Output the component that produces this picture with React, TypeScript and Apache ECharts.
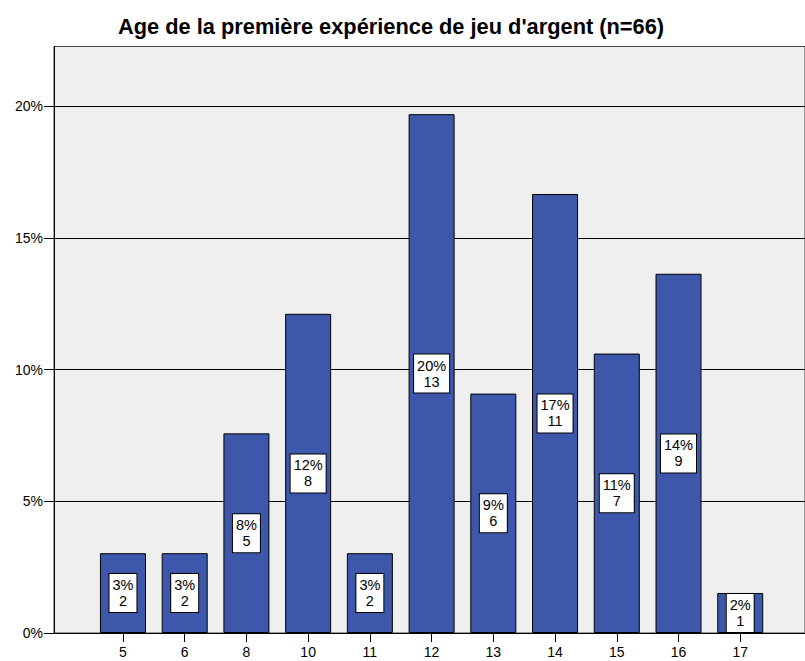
import React, { useEffect, useRef } from "react";
import * as echarts from "echarts";

const TITLE = "Age de la première expérience de jeu d'argent (n=66)";
const ages = ["5", "6", "8", "10", "11", "12", "13", "14", "15", "16", "17"];
const counts = [2, 2, 5, 8, 2, 13, 6, 11, 7, 9, 1];
const percents = [3.03, 3.03, 7.58, 12.12, 3.03, 19.7, 9.09, 16.67, 10.61, 13.64, 1.52];
const yTicks = [0, 5, 10, 15, 20];

const FONT = '"Liberation Sans", Arial, sans-serif';
const Y_MAX = 22.27;

export default function App() {
  const ref = useRef<HTMLDivElement>(null);
  useEffect(() => {
    if (!ref.current) return;
    const chart = echarts.init(ref.current, null, { renderer: "svg" });
    const gridTop = 46.5;
    const gridBottom = 28;
    chart.setOption({
      animation: false,
      backgroundColor: "#ffffff",
      title: {
        text: TITLE,
        left: 113,
        top: 10,
        textStyle: { fontFamily: FONT, fontSize: 21.8, fontWeight: "bold", color: "#000" },
      },
      grid: [
        {
          left: 54,
          right: -2,
          top: gridTop,
          bottom: gridBottom,
          show: true,
          backgroundColor: "#efefef",
          borderColor: "#444",
          borderWidth: 1,
        },
        {
          left: 92.1,
          width: 679,
          top: gridTop,
          bottom: gridBottom,
        },
      ],
      xAxis: [
        {
          gridIndex: 0,
          type: "value",
          min: 0,
          max: 1,
          axisLine: { show: true, onZero: false, lineStyle: { color: "#000", width: 1 } },
          axisTick: { show: false },
          axisLabel: { show: false },
          splitLine: { show: false },
        },
        {
          gridIndex: 1,
          type: "category",
          data: ages,
          axisLine: { show: false },
          axisTick: { show: true, alignWithLabel: true, length: 9, lineStyle: { color: "#000" } },
          axisLabel: { fontFamily: FONT, fontSize: 14, color: "#000", margin: 12 },
          splitLine: { show: false },
        },
      ],
      yAxis: [
        {
          gridIndex: 0,
          type: "value",
          min: 0,
          max: Y_MAX,
          interval: 5,
          axisLine: { show: true, lineStyle: { color: "#000", width: 1 } },
          axisTick: { show: true, length: 10, customValues: yTicks, lineStyle: { color: "#000" } },
          axisLabel: {
            customValues: yTicks,
            fontFamily: FONT,
            fontSize: 14,
            color: "#000",
            margin: 11,
            formatter: (v: number) => `${v}%`,
          },
          splitLine: { show: true, lineStyle: { color: "#000", width: 1 } },
        },
        {
          gridIndex: 1,
          type: "value",
          min: 0,
          max: Y_MAX,
          show: false,
          splitLine: { show: false },
        },
      ],
      series: [
        {
          type: "bar",
          xAxisIndex: 1,
          yAxisIndex: 1,
          data: percents,
          barWidth: 46,
          itemStyle: { color: "#3d58ab", borderColor: "#000", borderWidth: 1 },
          label: {
            show: true,
            position: "inside",
            formatter: (p: any) => `${Math.round(percents[p.dataIndex])}%\n${counts[p.dataIndex]}`,
            fontFamily: FONT,
            fontSize: 14.5,
            lineHeight: 16,
            color: "#000",
            backgroundColor: "#fff",
            borderColor: "#000",
            borderWidth: 1,
            padding: [3, 3, 3, 3],
            align: "center",
          },
        },
      ],
    });
    return () => chart.dispose();
  }, []);
  return (
    <div
      ref={ref}
      style={{ position: "absolute", left: 0, top: 0, width: 805, height: 661 }}
    />
  );
}
